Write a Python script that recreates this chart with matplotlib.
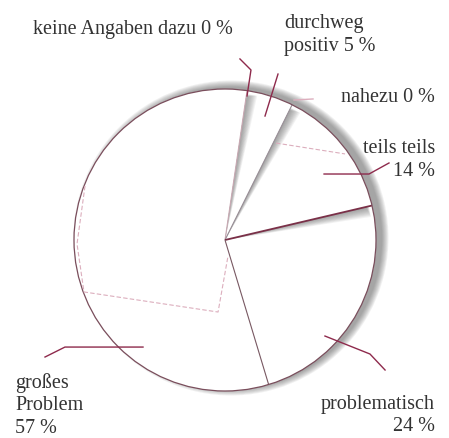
import numpy as np
import matplotlib
matplotlib.use("Agg")
import matplotlib.pyplot as plt
from matplotlib.patches import Wedge, Circle

# ---- data ----
categories = ["keine Angaben dazu", "durchweg positiv", "nahezu", "teils teils",
              "problematisch", "großes Problem"]
values = [0, 5, 0, 14, 24, 57]
labels = ["keine Angaben dazu 0 %", "durchweg\npositiv 5 %", "nahezu 0 %",
          "teils teils\n14 %", "problematisch\n24 %", "großes\nProblem\n57 %"]

# ---- layout / style ----
W, H = 449, 439
cx, cy, R = 225, 198, 151
START = 81.6
EDGE = "#7a4e5c"
LEAD = "#8e2a4c"
PINK = "#dcaebd"
TXT = "#333333"
FONT = ["Liberation Serif", "DejaVu Serif"]
FS = 14.5

# leader lines in units of R relative to pie centre
leaders = {
    "keine Angaben dazu": [(0.146, 0.954), (0.172, 1.126), (0.099, 1.199)],
    "durchweg positiv": [(0.265, 0.821), (0.351, 1.099)],
    "nahezu": [(0.457, 0.927), (0.583, 0.934)],
    "teils teils": [(0.656, 0.437), (0.954, 0.437), (1.086, 0.510)],
    "problematisch": [(0.662, -0.636), (0.960, -0.755), (1.060, -0.861)],
    "großes Problem": [(-0.543, -0.709), (-1.060, -0.709), (-1.192, -0.775)],
}
leader_col = {"nahezu": PINK}
# label anchors in pixel (x from left, y from top), alignment
label_pos = {
    "keine Angaben dazu": (33, 29, "left"),
    "durchweg positiv": (284, 35, "left"),
    "nahezu": (435, 97, "right"),
    "teils teils": (435, 160, "right"),
    "problematisch": (435, 415.5, "right"),
    "großes Problem": (15, 405.5, "left"),
}
faint = [
    [(0.338, 0.642), (0.795, 0.570)],
    [(-0.927, 0.358), (-0.980, -0.026), (-0.934, -0.344), (-0.046, -0.477), (0.020, -0.106)],
]
# boundary line colours (counter-clockwise edge of each wedge)
edge_cols = {"durchweg positiv": ("#c9a9b3", 0.8), "teils teils": ("#9a9098", 0.8),
             "problematisch": ("#7a3048", 1.3), "großes Problem": ("#7a5a64", 0.8)}

fig = plt.figure(figsize=(W / 100, H / 100), dpi=100)
ax = fig.add_axes([0, 0, 1, 1])

# outer soft shadow
for k in range(8):
    ax.add_patch(Circle((cx + 6, cy + 2), R + 6.5 - k * 0.9, facecolor="#4a4a4a",
                        edgecolor="none", alpha=0.08, zorder=1))

wedges, _ = ax.pie(values, startangle=START, counterclock=False, center=(cx, cy),
                   radius=R, colors=["white"] * len(values), normalize=True,
                   wedgeprops=dict(edgecolor="none", linewidth=0, zorder=3))
for w in wedges:
    w.set_zorder(3)

# inner soft shadows along selected boundaries (on clockwise side)
for name in ["durchweg positiv", "teils teils", "problematisch"]:
    w = wedges[categories.index(name)]
    t2 = w.theta2
    for k in range(10):
        d = 4.2 * (k + 1) / 10
        ax.add_patch(Wedge((cx, cy), R - 6 + k * 0.3, t2 - d, t2, facecolor="#555555",
                           edgecolor="none", alpha=0.07, zorder=4))
# boundary lines
for name, (col, lw) in edge_cols.items():
    w = wedges[categories.index(name)]
    a = np.deg2rad(w.theta2)
    ax.plot([cx, cx + R * np.cos(a)], [cy, cy + R * np.sin(a)],
            color=col, lw=lw, zorder=5, solid_capstyle="butt")
ax.add_patch(Circle((cx, cy), R, facecolor="none", edgecolor=EDGE, lw=0.9, zorder=5))

for pts in faint:
    xs = [cx + R * p[0] for p in pts]
    ys = [cy + R * p[1] for p in pts]
    ax.plot(xs, ys, color=PINK, lw=0.8, ls=(0, (4, 2)), zorder=6)

for name, pts in leaders.items():
    xs = [cx + R * p[0] for p in pts]
    ys = [cy + R * p[1] for p in pts]
    ax.plot(xs, ys, color=leader_col.get(name, LEAD), lw=1.0, zorder=7)

for name, lab in zip(categories, labels):
    x, y, ha = label_pos[name]
    ax.text(x, H - y, lab, ha=ha, va="center", fontsize=FS, color=TXT,
            family=FONT, linespacing=1.22, zorder=8, multialignment=ha)

ax.set_xlim(0, W)
ax.set_ylim(0, H)
ax.set_aspect("equal")
ax.axis("off")
fig.savefig("out.png", dpi=100)
